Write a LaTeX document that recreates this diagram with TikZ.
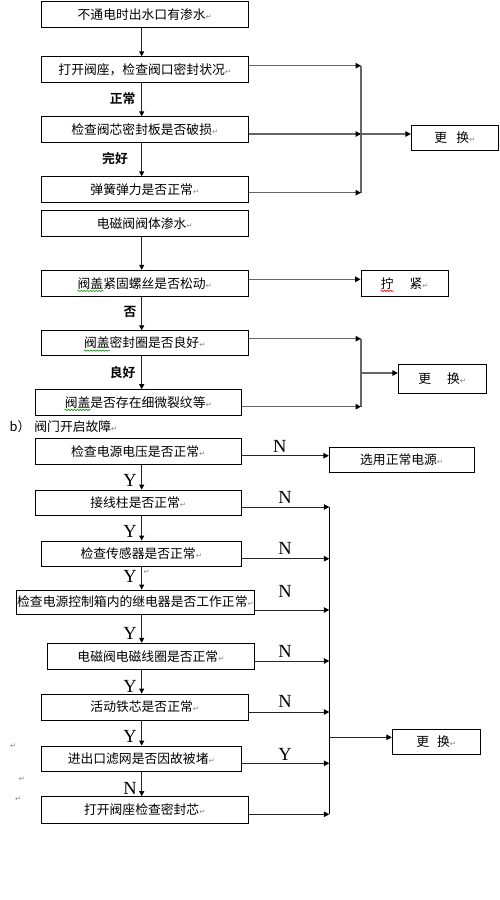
\documentclass[tikz,border=0pt]{standalone}
\usepackage{fontspec}
\usetikzlibrary{arrows.meta,decorations.pathmorphing}
\setmainfont{Liberation Serif}
\newfontfamily\cjk{Noto Sans CJK SC}
\newfontfamily\cjkb{Noto Sans CJK SC Bold}
\newfontfamily\retfont{DejaVu Sans}
\newcommand\pmk{{\retfont\fontsize{7.5}{8}\selectfont\color{black!45}↵}}
\newcommand\wv[2]{\tikz[baseline=(w.base)]{\node[inner sep=0pt,minimum width=0pt,minimum height=0pt,draw=none] (w) {#2};\draw[overlay,#1,line width=0.6pt,decorate,decoration={snake,amplitude=0.7pt,segment length=3pt}] ([yshift=-1.5pt]w.south west) -- ([yshift=-1.5pt]w.south east);}}
\begin{document}
\begin{tikzpicture}[x=1pt,y=-1pt,
  box/.style={draw, line width=0.9pt, inner sep=0pt, minimum height=25.5pt, font=\cjk\fontsize{12.8}{15}\selectfont},
  lab/.style={font=\cjkb\fontsize{12.8}{15}\selectfont, inner sep=0pt},
  yn/.style={font=\fontsize{18.5}{18.5}\selectfont, inner sep=0pt},
  down/.style={draw=black!85, line width=0.9pt, -{Triangle[length=5pt,width=5pt,color=black]}},
  side/.style={draw=black!60, line width=1.3pt, -{Triangle[length=5.5pt,width=5.5pt,color=black]}},
  bus/.style={draw=black!60, line width=1.3pt},
  sideb/.style={draw=black!85, line width=1pt, -{Triangle[length=5.5pt,width=5.5pt,color=black]}},
  busb/.style={draw=black, line width=1.4pt},
  note/.style={font=\cjk\fontsize{12.8}{15}\selectfont, inner sep=0pt}
]
\useasboundingbox (0,0) rectangle (499,900);
\fill[white] (0,0) rectangle (499,900);
\coordinate (cx) at (141.7,0);
% ---------- part a ----------
\node[box, minimum width=207pt] (A1) at (144.8,14.5) {不通电时出水口有渗水\pmk};
\node[box, minimum width=207pt] (A2) at (144.8,69.5) {打开阀座，检查阀口密封状况\pmk};
\node[box, minimum width=207pt] (A3) at (144.8,129.5) {检查阀芯密封板是否破损\pmk};
\node[box, minimum width=207pt] (A4) at (144.8,189.5) {弹簧弹力是否正常\pmk};
\node[box, minimum width=87.2pt, minimum height=25pt] (R1) at (454.9,137.8) {更\hspace{9pt}换\pmk};
\node[box, minimum width=207pt] (A5) at (144.8,223.3) {电磁阀阀体渗水\pmk};
\node[box, minimum width=207pt, minimum height=26pt] (A6) at (144.8,283.3) {\wv{green!60!black}{阀盖}紧固螺丝是否松动\pmk};
\node[box, minimum width=87.3pt, minimum height=26pt] (T) at (404.7,283.3) {\wv{red}{拧}\hspace{16pt}紧\pmk};
\node[box, minimum width=207pt, minimum height=24.6pt] (A7) at (144.8,343) {\wv{green!60!black}{阀盖}密封圈是否良好\pmk};
\node[box, minimum width=206pt, minimum height=25.3pt] (A8) at (138.3,402.3) {\wv{green!60!black}{阀盖}是否存在细微裂纹等\pmk};
\node[box, minimum width=88pt, minimum height=28.3pt] (R2) at (442.3,378.8) {更\hspace{16pt}换\pmk};

\node[lab] (l1) at (122.7,99) {正常};
\node[lab] (l2) at (115,159) {完好};
\node[lab] (l3) at (130,312.3) {否};
\node[lab] (l4) at (122.7,372.3) {良好};

\draw[down] (A1.south -| cx) -- (A2.north -| cx);
\draw[down] (A2.south -| cx) -- (A3.north -| cx);
\draw[down] (A3.south -| cx) -- (A4.north -| cx);
\draw[down] (A5.south -| cx) -- (A6.north -| cx);
\draw[down] (A6.south -| cx) -- (A7.north -| cx);
\draw[down] (A7.south -| cx) -- (A8.north -| cx);

\coordinate (J1) at (361,65.7);
\coordinate (J2) at (361,134);
\coordinate (J3) at (361,192.7);
\draw[bus] (J1) -- (J3);
\draw[side] (A2.east |- J1) -- (J1);
\draw[side] (A3.east |- J2) -- (J2);
\draw[side] (A4.east |- J3) -- (J3);
\draw[side] (J2) -- (R1.west |- J2);

\coordinate (J4) at (361,279.3);
\draw[side] (A6.east |- J4) -- (T.west |- J4);

\coordinate (J5) at (361,338.7);
\coordinate (J6) at (361,373);
\coordinate (J7) at (361,406.7);
\draw[bus] (J5) -- (J7);
\draw[side] (A7.east |- J5) -- (J5);
\draw[side] (A8.east |- J7) -- (J7);
\draw[side] (J6) -- (R2.west |- J6);

% ---------- part b ----------
\node[note, anchor=west] (bl) at (9.5,426.7) {b）\hspace{4pt}阀门开启故障\pmk};

\node[box, minimum width=206pt, minimum height=25.7pt] (B1) at (138.3,451.2) {检查电源电压是否正常\pmk};
\node[box, minimum width=144.7pt, minimum height=25pt] (S) at (401.7,459.8) {选用正常电源\pmk};
\node[box, minimum width=206pt, minimum height=25.3pt] (B2) at (138.3,502.7) {接线柱是否正常\pmk};
\node[box, minimum width=200pt, minimum height=25pt] (B3) at (141.3,553.5) {检查传感器是否正常\pmk};
\node[box, minimum width=237.6pt, minimum height=24pt] (B4) at (135.5,602) {检查电源控制箱内的继电器是否工作正常\pmk};
\node[box, minimum width=206.6pt, minimum height=26pt] (B5) at (151,656.3) {电磁阀电磁线圈是否正常\pmk};
\node[box, minimum width=207pt, minimum height=26pt] (B6) at (144.8,707) {活动铁芯是否正常\pmk};
\node[box, minimum width=200pt, minimum height=25.3pt] (B7) at (141.3,758.7) {进出口滤网是否因故被堵\pmk};
\node[box, minimum width=207pt, minimum height=26.3pt] (B8) at (144.8,809.8) {打开阀座检查密封芯\pmk};
\node[box, minimum width=88pt, minimum height=25pt] (R3) at (436.3,741.8) {更\hspace{8pt}换\pmk};

\draw[down] (B1.south -| cx) -- (B2.north -| cx);
\draw[down] (B2.south -| cx) -- (B3.north -| cx);
\draw[down] (B3.south -| cx) -- (B4.north -| cx);
\draw[down] (B4.south -| cx) -- (B5.north -| cx);
\draw[down] (B5.south -| cx) -- (B6.north -| cx);
\draw[down] (B6.south -| cx) -- (B7.north -| cx);
\draw[down] (B7.south -| cx) -- (B8.north -| cx);

\node[yn] (y1) at (130,480) {Y};
\node[yn] (y2) at (130,531.7) {Y};
\node[yn] (y3) at (130,576.7) {Y};
\node[yn] (y4) at (130,633.3) {Y};
\node[yn] (y5) at (130,686.7) {Y};
\node[yn] (y6) at (130,736.7) {Y};
\node[yn] (n7) at (130,788.3) {N};
\node[inner sep=0pt] (m1) at (146.7,571.7) {\pmk};

\node[yn] (n1) at (279.7,446) {N};
\node[yn] (n2) at (285,497.3) {N};
\node[yn] (n3) at (285,548.3) {N};
\node[yn] (n4) at (285,591.7) {N};
\node[yn] (n5) at (285,651.7) {N};
\node[yn] (n6) at (285,701.7) {N};
\node[yn] (y7) at (285,754.3) {Y};

\coordinate (K0) at (329.3,455.7);
\draw[sideb] (B1.east |- K0) -- (S.west |- K0);

\coordinate (K1) at (329.3,507);
\coordinate (K2) at (329.3,558.7);
\coordinate (K3) at (329.3,610);
\coordinate (K4) at (329.3,661);
\coordinate (K5) at (329.3,712);
\coordinate (K6) at (329.3,763.3);
\coordinate (K7) at (329.3,814.3);
\coordinate (KM) at (329.3,737.3);
\draw[busb] (K1) -- (K7);
\draw[sideb] (B2.east |- K1) -- (K1);
\draw[sideb] (B3.east |- K2) -- (K2);
\draw[sideb] (B4.east |- K3) -- (K3);
\draw[sideb] (B5.east |- K4) -- (K4);
\draw[sideb] (B6.east |- K5) -- (K5);
\draw[sideb] (B7.east |- K6) -- (K6);
\draw[sideb] (B8.east |- K7) -- (K7);
\draw[sideb] (KM) -- (R3.west |- KM);

\node[inner sep=0pt] (m2) at (13.3,746) {\pmk};
\node[inner sep=0pt] (m3) at (21.7,779.3) {\pmk};
\node[inner sep=0pt] (m4) at (18.3,799) {\pmk};
\end{tikzpicture}
\end{document}
